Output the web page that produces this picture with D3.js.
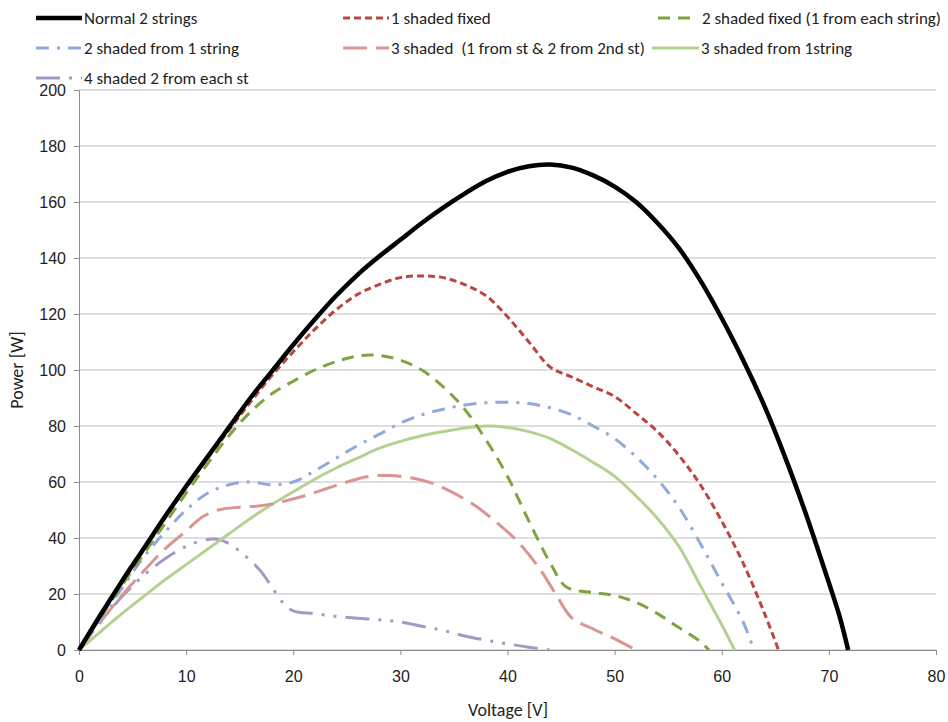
<!DOCTYPE html>
<html><head><meta charset="utf-8">
<script src="https://cdn.jsdelivr.net/npm/d3@7"></script>
<style>
body{margin:0;background:#fff;}
svg{display:block;font-family:Carlito,'Liberation Sans Narrow','DejaVu Sans Condensed',sans-serif;}
text{white-space:pre;}
</style></head>
<body><svg id="chart" width="948" height="722"></svg>
<script>
const seriesNames = ["Normal 2 strings","1 shaded fixed","2 shaded fixed (1 from each string)","2 shaded from 1 string","3 shaded  (1 from st & 2 from 2nd st)","3 shaded from 1string","4 shaded 2 from each st"];
const xTicks = [0,10,20,30,40,50,60,70,80];
const yTicks = [0,20,40,60,80,100,120,140,160,180,200];

const normal2 = [[0,0],[2,12.5],[4,24.5],[6,36],[8,47.5],[10,58.5],[12,69],[14,79.5],[16,90],[18,99.5],[20,109],[22,118],[24,126.5],[26,134],[28,140.5],[30,146.5],[32,152.5],[34,158],[36,163],[38,167.5],[40,170.8],[42,172.8],[44,173.4],[46,172.3],[48,169.5],[50,165.5],[52,160],[54,152.5],[56,143.5],[58,132],[60,118.5],[62,103.5],[64,87],[66,68],[68,47],[70,24],[71,12],[71.8,0]];
const shaded1 = [[0,0],[2,12.5],[4,24],[6,35.5],[8,47],[10,58],[12,68.5],[14,78.5],[16,88.5],[18,98],[20,106.5],[22,114.5],[24,121.5],[26,127],[28,130.5],[30,133],[32,133.6],[34,133],[36,130.5],[38,126.5],[40,119],[42,110],[44,101],[46,97.5],[48,94],[50,90.5],[52,84.5],[54,78],[56,69.5],[58,59],[60,46],[62,31],[64,13],[65.3,0]];
const shaded2fixed = [[0,0],[2,11.5],[4,23],[6,34],[8,45],[10,56],[12,66.5],[14,76.5],[16,85],[18,91.5],[20,96],[22,100],[24,103],[26,105],[28,105.2],[30,103.5],[32,100],[34,94],[36,86],[38,75],[40,62],[42,46],[44,31],[45.5,22.5],[48,20.5],[50,19.5],[52,17],[54,13],[56,8],[58,3],[58.8,0]];
const shaded2one = [[0,0],[2,11],[4,22],[6,33],[8,42],[10,50],[12,56],[14,59],[16,60],[18,59],[20,60],[22,64],[24,68.5],[26,73],[28,77],[30,81],[32,84],[34,86],[36,87.5],[38,88.3],[40,88.5],[42,88],[44,86.5],[46,84],[48,80],[50,75.5],[52,69],[54,61],[56,51],[58,38],[60,24],[62,10],[63,0]];
const shaded3mixed = [[0,0],[2,10],[4,19.5],[6,28],[8,36],[10,42.5],[11.5,47.5],[13,50],[15,51],[17,51.5],[19,53],[21,55],[23,57.5],[25,60],[27,62],[29,62.3],[31,61.5],[33,59.5],[35,56],[37,51.5],[39,45.5],[41,38.5],[43,29],[44.5,20],[46,11.5],[48,7.5],[50,4],[52,0]];
const shaded3one = [[0,0],[2,6.5],[4,13],[6,19],[8,25],[10,30.5],[12,36],[14,41.5],[16,47],[18,52],[20,56.5],[22,61],[24,65],[26,68.5],[28,72],[30,74.5],[32,76.5],[34,78],[36,79.3],[38,80],[40,79.5],[42,78],[44,75.5],[46,71.5],[48,67],[50,62],[52,55],[54,47],[56,37],[58,23],[60,9],[61.2,0]];
const shaded4 = [[0,0],[2,10],[4,19],[6,26.5],[8,32.5],[10,37],[12,39.5],[13,39.5],[14,38],[16,32],[17,28],[18,22.5],[19,17],[20,14],[22,13],[24,12],[26,11.3],[28,10.8],[30,10],[32,8.5],[34,7],[36,5],[38,3.5],[40,2.2],[42,1],[44,0]];

const seriesData = [normal2, shaded1, shaded2fixed, shaded2one, shaded3mixed, shaded3one, shaded4];
const colors = ["#000000","#BA4643","#7FA33E","#8FAADB","#DA9491","#B5D192","#A798C3"];
const widths = [4.5,3,3,3,3,3,3];
const dashes = [null,"7,4","12,8","13,8,3,8","24,9","", "24,9,3,9,3,9"];

const svg = d3.select("#chart");
const x = d3.scaleLinear().domain([0,80]).range([79,936]);
const y = d3.scaleLinear().domain([0,200]).range([650,90]);

svg.append("g").selectAll("line").data(yTicks).join("line")
  .attr("x1",x(0)).attr("x2",x(80)).attr("y1",d=>y(d)).attr("y2",d=>y(d))
  .attr("stroke","#BFBFBF").attr("stroke-width",1);

const yAxis = svg.append("g").attr("transform",`translate(${x(0)},0)`)
  .call(d3.axisLeft(y).tickValues(yTicks).tickSize(5).tickPadding(8));
const xAxis = svg.append("g").attr("transform",`translate(0,${y(0)})`)
  .call(d3.axisBottom(x).tickValues(xTicks).tickSize(5).tickPadding(16));
[yAxis,xAxis].forEach(a=>{
  a.select(".domain").attr("stroke","#8C8C8C");
  a.selectAll(".tick line").attr("stroke","#8C8C8C");
  a.selectAll("text").attr("font-size",16).attr("fill","#222").attr("font-family","inherit");
});

const line = d3.line().x(d=>x(d[0])).y(d=>y(d[1])).curve(d3.curveCatmullRom.alpha(0.5));
[6,5,4,3,2,1,0].forEach(i=>{
  svg.append("path").datum(seriesData[i]).attr("d",line)
    .attr("fill","none").attr("stroke",colors[i]).attr("stroke-width",widths[i])
    .attr("stroke-dasharray",dashes[i]||null).attr("stroke-linejoin","round");
});

const legendPos = [[36,18],[343,18],[658,18],[36,48],[343,48],[652,48],[36,78]];
const legendLen = [46,46,32,46,46,47,46];
seriesNames.forEach((n,i)=>{
  const [lx,ly]=legendPos[i];
  const g=svg.append("g");
  g.append("line").attr("x1",lx).attr("x2",lx+legendLen[i]).attr("y1",ly).attr("y2",ly)
    .attr("stroke",colors[i]).attr("stroke-width",widths[i])
    .attr("stroke-dasharray",dashes[i]||null);
  g.append("text").attr("x",lx+legendLen[i]+(i===2?12:2)).attr("y",ly+5.5).attr("font-size",17)
    .attr("fill","#222").text(n);
});

svg.append("text").attr("x",508).attr("y",716).attr("text-anchor","middle").attr("font-size",18).attr("fill","#222").text("Voltage [V]");
svg.append("text").attr("transform","translate(23,370) rotate(-90)").attr("text-anchor","middle").attr("font-size",18).attr("fill","#222").text("Power [W]");
</script></body></html>
